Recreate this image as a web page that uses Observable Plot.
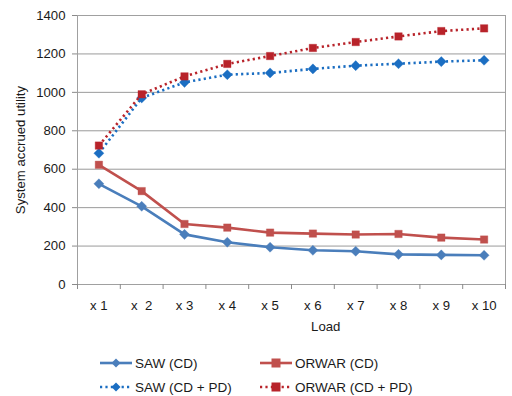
<!DOCTYPE html>
<html>
<head>
<meta charset="utf-8">
<script src="https://cdn.jsdelivr.net/npm/d3@7"></script>
<script src="https://cdn.jsdelivr.net/npm/@observablehq/plot@0.6"></script>
<style>
  html, body { margin: 0; padding: 0; background: #fff; }
  body { width: 512px; height: 396px; overflow: hidden; font-family: "Liberation Sans", Arial, sans-serif; }
  #chart svg text { white-space: pre; font-size: 13.2px !important; }
  .legend { position: relative; height: 56px; font-size: 13.5px; color: #1a1a1a; }
  .item { position: absolute; display: flex; align-items: center; height: 20px; }
  .item svg { display: block; margin-right: 2px; }
</style>
</head>
<body>
<div id="chart"></div>
<div class="legend" id="legend"></div>
<script>
// ---- data ----
const loads = ["x 1", "x  2", "x 3", "x 4", "x 5", "x 6", "x 7", "x 8", "x 9", "x 10"];
const sawCD = [524, 407, 261, 220, 194, 178, 173, 157, 154, 152];
const orwarCD = [623, 486, 315, 296, 270, 265, 260, 263, 244, 234];
const sawCDPD = [683, 971, 1052, 1092, 1101, 1122, 1139, 1149, 1160, 1167];
const orwarCDPD = [723, 990, 1083, 1148, 1189, 1231, 1262, 1291, 1319, 1333];
const seriesNames = ["SAW (CD)", "ORWAR (CD)", "SAW (CD + PD)", "ORWAR (CD + PD)"];
const yTicks = [0, 200, 400, 600, 800, 1000, 1200, 1400];

const styles = {
  "SAW (CD)": {color: "#4A7EBB", dash: null, symbol: "diamond"},
  "ORWAR (CD)": {color: "#C0504D", dash: null, symbol: "square"},
  "SAW (CD + PD)": {color: "#1B6EC2", dash: "2.2,3.2", symbol: "diamond"},
  "ORWAR (CD + PD)": {color: "#B8232A", dash: "2.2,3.2", symbol: "square"}
};
const allValues = [sawCD, orwarCD, sawCDPD, orwarCDPD];
const rows = [];
seriesNames.forEach((s, si) => {
  allValues[si].forEach((v, i) => rows.push({series: s, idx: i + 1, load: loads[i], value: v}));
});
const idxs = loads.map((_, i) => i + 1);
const bounds = [...loads.map((_, i) => i + 0.5), loads.length + 0.5];

const diamond = {draw(ctx, size) { const r = Math.sqrt(size) * 0.62; ctx.moveTo(0, -r); ctx.lineTo(r, 0); ctx.lineTo(0, r); ctx.lineTo(-r, 0); ctx.closePath(); }};
const square = {draw(ctx, size) { const r = Math.sqrt(size) / 2; ctx.rect(-r, -r, 2 * r, 2 * r); }};

const marks = [
  Plot.gridY(yTicks, {stroke: "#9a9a9a", strokeOpacity: 1, strokeWidth: 1}),
  Plot.frame({stroke: "#a0a0a0", strokeWidth: 1}),
  Plot.axisY(yTicks, {tickSize: 5, tickPadding: 7, stroke: "#8a8a8a", fill: "#1a1a1a", tickFormat: (d) => String(d),
    label: "System accrued utility", labelAnchor: "center", labelArrow: "none", labelOffset: 62}),
  Plot.axisX(bounds, {tickSize: 5, tickFormat: () => "", stroke: "#8a8a8a", label: null}),
  Plot.axisX(idxs, {tickSize: 0, tickPadding: 16, tickFormat: (d) => loads[d - 1], fill: "#1a1a1a",
    label: null})
];
for (const s of seriesNames) {
  const st = styles[s];
  const data = rows.filter(r => r.series === s);
  marks.push(Plot.line(data, {x: "idx", y: "value", stroke: st.color, strokeWidth: 2.6,
    strokeDasharray: st.dash, strokeLinecap: "butt"}));
  marks.push(Plot.dot(data, {x: "idx", y: "value", fill: st.color, stroke: st.color, strokeOpacity: 0.35, strokeWidth: 1,
    symbol: st.symbol === "diamond" ? diamond : square, r: st.symbol === "diamond" ? 4.6 : 4.2}));
}
marks.push(Plot.text(["Load"], {frameAnchor: "bottom", x: 6.3, dy: 37, fill: "#1a1a1a", lineAnchor: "top"}));

const chart = Plot.plot({
  width: 512,
  height: 340,
  marginLeft: 77,
  marginRight: 7,
  marginTop: 15,
  marginBottom: 56,
  style: {fontFamily: "'Liberation Sans', Arial, sans-serif", fontSize: "13px", background: "#fff", color: "#1a1a1a"},
  x: {type: "linear", domain: [0.5, loads.length + 0.5]},
  y: {domain: [0, 1400]},
  marks
});
document.getElementById("chart").appendChild(chart);

// legend
const legend = document.getElementById("legend");
const pos = [[98, 23], [258, 23], [98, 47], [258, 47]];
seriesNames.forEach((s, i) => {
  const st = styles[s];
  const div = document.createElement("div");
  div.className = "item";
  div.style.left = pos[i][0] + "px";
  div.style.top = (pos[i][1] - 10) + "px";
  const sym = st.symbol === "diamond"
    ? `<path d="M18,4.5 L22.5,9 L18,13.5 L13.5,9 Z" fill="${st.color}"/>`
    : `<rect x="13.5" y="4.5" width="9" height="9" fill="${st.color}"/>`;
  div.innerHTML = `<svg width="35" height="18"><line x1="2" x2="34" y1="9" y2="9" stroke="${st.color}" stroke-width="2.6" ${st.dash ? `stroke-dasharray="${st.dash}"` : ""}/>${sym}</svg><span>${s}</span>`;
  legend.appendChild(div);
});
</script>
</body>
</html>
